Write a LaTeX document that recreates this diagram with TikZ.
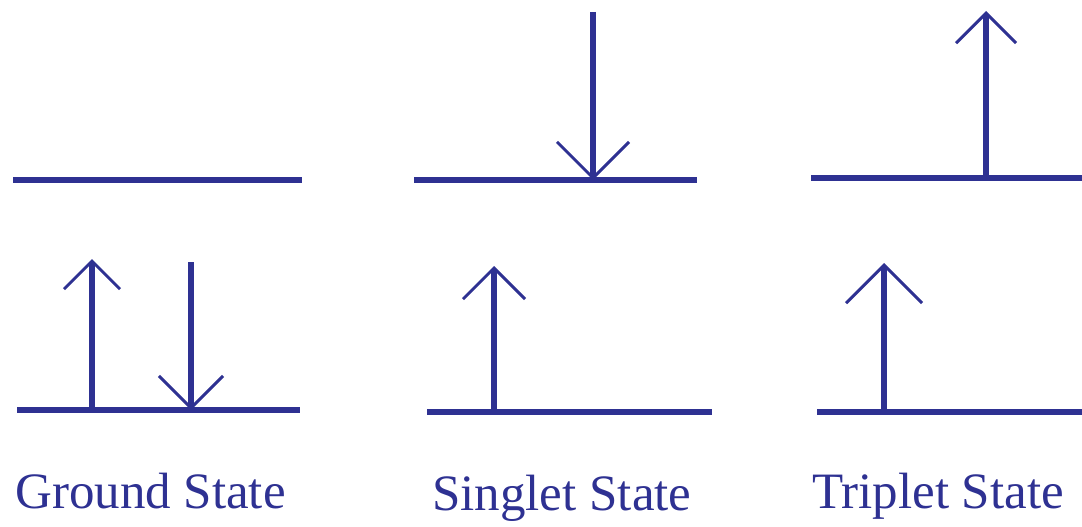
\documentclass[tikz,border=0pt]{standalone}
\usepackage{fontspec}
\setmainfont{Liberation Serif}
\usetikzlibrary{arrows.meta}
\definecolor{spinblue}{HTML}{2E3192}
\tikzset{
  level/.style={spinblue, line width=6pt},
  spin/.style={spinblue, line width=5.5pt, -{Straight Barb[length=#1pt, width'=0pt 2, line width'=3pt]}},
  statelabel/.style={spinblue, anchor=base west, inner sep=0pt, font=\fontsize{51}{60}\selectfont}
}

\begin{document}
\begin{tikzpicture}[x=1pt, y=-1pt]
\useasboundingbox (0,0) rectangle (1082,527);

\begin{scope}
\draw[level] (13,180)--(302,180);
\draw[level] (17,410)--(300,410);

\draw[spin=28] (92,410)--(92,259);
\draw[spin=32] (191,262)--(191,410);

\node[statelabel] (ground) at (15,508) {Ground State};
\end{scope}

\begin{scope}[xshift=414pt]
\draw[level] (0,180)--(283,180);
\draw[level] (13,412)--(298,412);

\draw[spin=36] (179,12)--(179,180);
\draw[spin=31] (80,412)--(80,266);

\node[statelabel] (singlet) at (18,510) {Singlet State};
\end{scope}

\begin{scope}[xshift=811pt]
\draw[level] (0,178)--(271,178);
\draw[level] (6,412)--(271,412);

\draw[spin=30] (175,178)--(175,11);
\draw[spin=38] (73,412)--(73,263);

\node[statelabel] (triplet) at (1,508) {Triplet State};
\end{scope}
\end{tikzpicture}
\end{document}
